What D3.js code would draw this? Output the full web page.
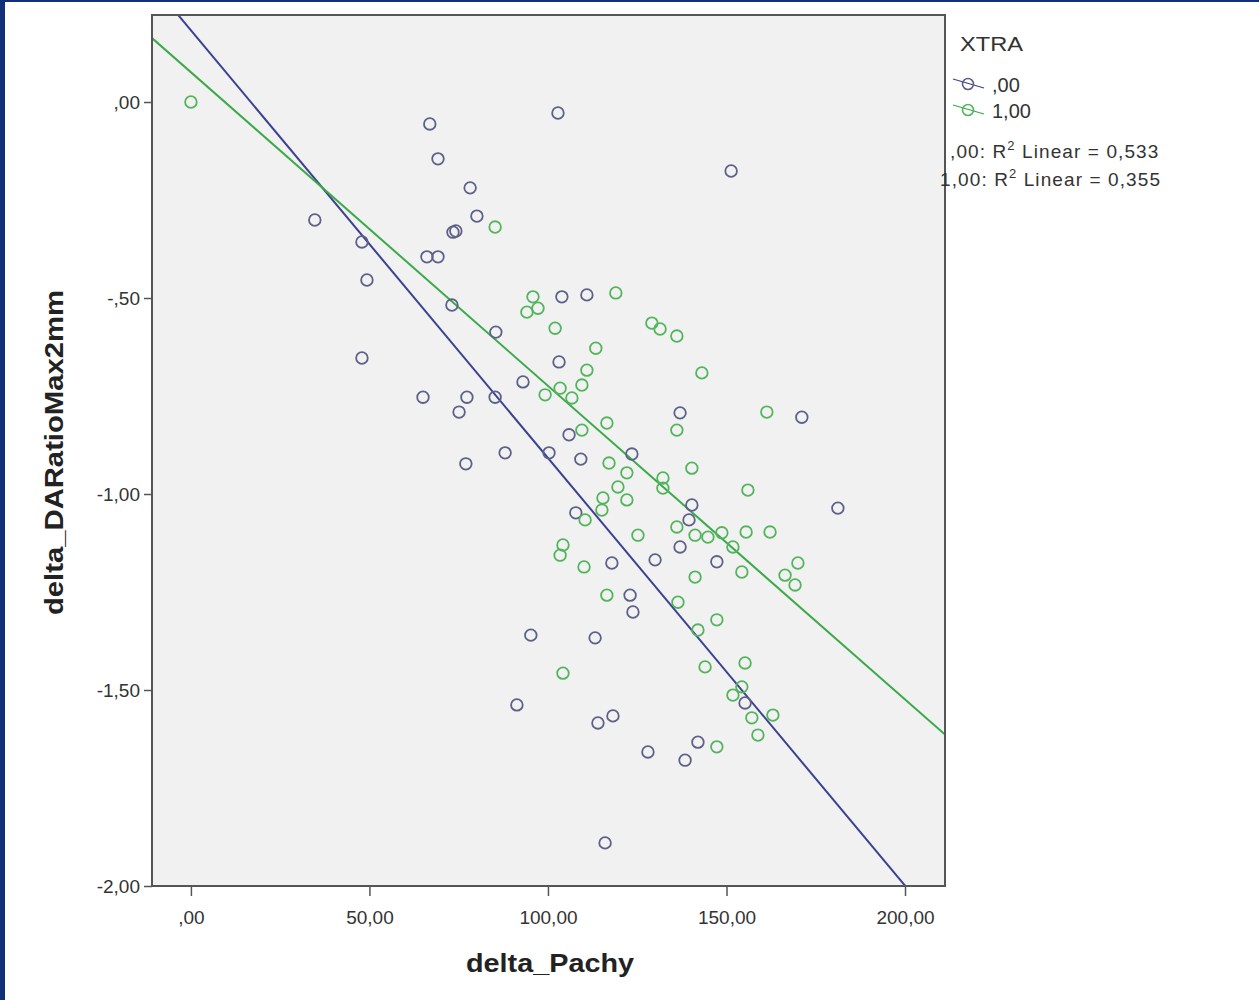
<!DOCTYPE html>
<html>
<head>
<meta charset="utf-8">
<script src="https://cdn.jsdelivr.net/npm/d3@7"></script>
<style>
  body { margin:0; background:#fff; }
  svg { display:block; }
  .tick text { font-family: "Liberation Sans", Arial, sans-serif; font-size:19px; fill:#333; }
</style>
</head>
<body>
<div id="chart"></div>
<script>
// group ,00 (XTRA = 0)
var xtra0X = [66.9,69.2,78.2,80.1,73.4,74.2,66.1,69.2,34.7,47.9,49.3,73.1,85.4,47.9,102.8,151.3,103.9,110.9,103.1,93.0,
  65.0,77.3,75.1,85.2,137.0,171.1,105.9,123.5,77.0,88.0,100.3,109.2,181.2,140.3,107.8,139.5,117.9,130.0,137.0,147.3,
  123.0,123.8,95.2,113.2,91.3,155.2,114.0,118.2,128.0,138.4,142.0,116.0];
var xtra0Y = [-0.056,-0.145,-0.219,-0.291,-0.332,-0.329,-0.395,-0.395,-0.301,-0.357,-0.454,-0.518,-0.587,-0.653,-0.028,-0.176,-0.497,-0.492,-0.663,-0.714,
  -0.753,-0.753,-0.791,-0.753,-0.793,-0.804,-0.849,-0.898,-0.923,-0.895,-0.895,-0.911,-1.036,-1.028,-1.048,-1.066,-1.176,-1.168,-1.135,-1.173,
  -1.258,-1.301,-1.360,-1.367,-1.538,-1.533,-1.584,-1.566,-1.658,-1.679,-1.633,-1.890];
// group 1,00 (XTRA = 1)
var xtra1X = [0,85.2,95.8,94.1,97.2,119.0,102.0,129.1,131.4,136.1,113.4,110.9,143.1,109.5,99.2,103.4,106.7,136.1,161.3,116.5,
  109.5,117.1,140.3,122.1,119.6,132.2,132.2,122.1,115.4,115.1,110.4,136.1,141.2,144.8,148.7,151.8,155.5,162.2,125.2,104.2,
  103.4,110.1,154.3,141.2,170.0,166.4,169.2,116.5,136.4,147.3,142.0,104.2,144.0,155.2,154.3,151.8,157.1,163.0,158.8,147.3,156.0];
var xtra1Y = [0,-0.319,-0.497,-0.536,-0.526,-0.487,-0.577,-0.564,-0.579,-0.597,-0.628,-0.684,-0.691,-0.722,-0.747,-0.730,-0.755,-0.837,-0.791,-0.819,
  -0.837,-0.921,-0.934,-0.946,-0.982,-0.959,-0.985,-1.015,-1.010,-1.041,-1.066,-1.084,-1.105,-1.110,-1.099,-1.135,-1.097,-1.097,-1.105,-1.130,
  -1.156,-1.186,-1.199,-1.212,-1.176,-1.207,-1.232,-1.258,-1.276,-1.321,-1.347,-1.457,-1.441,-1.431,-1.492,-1.513,-1.571,-1.564,-1.615,-1.645,-0.990];

var groups = [",00", "1,00"];
var fitIntercept = [0.183, 0.076];
var fitSlope = [-0.01091, -0.0080];
var r2Labels = [",00: R", "1,00: R"];
var r2Values = ["0,533", "0,355"];
var xTicks = [0, 50, 100, 150, 200];
var xTickLabels = [",00", "50,00", "100,00", "150,00", "200,00"];
var yTicks = [0, -0.5, -1, -1.5, -2];
var yTickLabels = [",00", "-,50", "-1,00", "-1,50", "-2,00"];

var colors = ["#5d6088", "#52b55c"];
var lineColors = ["#3c4190", "#3aaa48"];

var drawChart = function(){
  var svg = d3.select("#chart").append("svg").attr("width", 1259).attr("height", 1000);

  // dark frame of the slide
  svg.append("rect").attr("x",0).attr("y",0).attr("width",5).attr("height",1000).attr("fill","#12307a");
  svg.append("rect").attr("x",0).attr("y",0).attr("width",1259).attr("height",2).attr("fill","#12307a");

  var pLeft = 152, pTop = 15, pRight = 945, pBottom = 886;
  var x = d3.scaleLinear().domain([-10.9, 211.2]).range([pLeft, pRight]);
  var y = d3.scaleLinear().domain([-2, 0.222]).range([pBottom, pTop]);

  svg.append("rect").attr("x", pLeft).attr("y", pTop).attr("width", pRight-pLeft).attr("height", pBottom-pTop)
    .attr("fill", "#f1f1f1");

  svg.append("clipPath").attr("id","clip").append("rect")
    .attr("x", pLeft).attr("y", pTop).attr("width", pRight-pLeft).attr("height", pBottom-pTop);

  // fit lines
  var plot = svg.append("g").attr("clip-path","url(#clip)");
  [0,1].forEach(function(g){
    var x0 = -10.9, x1 = 211.2;
    plot.append("line")
      .attr("x1", x(x0)).attr("y1", y(fitIntercept[g] + fitSlope[g]*x0))
      .attr("x2", x(x1)).attr("y2", y(fitIntercept[g] + fitSlope[g]*x1))
      .attr("stroke", lineColors[g]).attr("stroke-width", 2);
  });

  // points
  var pts0 = xtra0X.map(function(d,i){ return [d, xtra0Y[i]]; });
  var pts1 = xtra1X.map(function(d,i){ return [d, xtra1Y[i]]; });
  [pts0, pts1].forEach(function(pts, g){
    plot.append("g").selectAll("circle").data(pts).enter().append("circle")
      .attr("cx", function(d){ return x(d[0]); })
      .attr("cy", function(d){ return y(d[1]); })
      .attr("r", 5.8)
      .attr("fill", "none")
      .attr("stroke", colors[g])
      .attr("stroke-width", 1.8);
  });

  // axes
  var xAxis = d3.axisBottom(x).tickValues(xTicks).tickSize(10).tickPadding(8)
    .tickFormat(function(d,i){ return xTickLabels[i]; });
  var gx = svg.append("g").attr("transform","translate(0,"+pBottom+")").call(xAxis);
  gx.select(".domain").remove();
  gx.selectAll(".tick line").attr("stroke","#555").attr("stroke-width",1.5);
  gx.selectAll(".tick text").attr("dy","1.05em");

  var yAxis = d3.axisLeft(y).tickValues(yTicks).tickSize(8).tickPadding(4)
    .tickFormat(function(d,i){ return yTickLabels[i]; });
  var gy = svg.append("g").attr("transform","translate("+pLeft+",0)").call(yAxis);
  gy.select(".domain").remove();
  gy.selectAll(".tick line").attr("stroke","#555").attr("stroke-width",1.5);

  // frame
  svg.append("rect").attr("x", pLeft).attr("y", pTop).attr("width", pRight-pLeft).attr("height", pBottom-pTop)
    .attr("fill", "none").attr("stroke", "#555").attr("stroke-width", 2);

  // axis titles
  svg.append("text").attr("x", 466).attr("y", 972)
    .attr("textLength", 168).attr("lengthAdjust", "spacingAndGlyphs")
    .style("font-family","'Liberation Sans', Arial, sans-serif").style("font-weight","bold")
    .style("font-size","25px").attr("fill","#222").text("delta_Pachy");
  svg.append("text").attr("transform","translate(63,615) rotate(-90)")
    .attr("textLength", 325).attr("lengthAdjust", "spacingAndGlyphs")
    .style("font-family","'Liberation Sans', Arial, sans-serif").style("font-weight","bold")
    .style("font-size","25px").attr("fill","#222").text("delta_DARatioMax2mm");

  // legend
  var leg = svg.append("g").style("font-family","'Liberation Sans', Arial, sans-serif");
  leg.append("text").attr("x", 960).attr("y", 51).attr("textLength", 63).attr("lengthAdjust","spacingAndGlyphs")
    .style("font-size","21px").attr("fill","#333").text("XTRA");
  groups.forEach(function(gname, g){
    var ly = 84 + g*26;
    leg.append("line").attr("x1", 953).attr("y1", ly-5).attr("x2", 984).attr("y2", ly+4)
      .attr("stroke", lineColors[g]).attr("stroke-width", 1.3);
    leg.append("circle").attr("cx", 968).attr("cy", ly).attr("r", 5.5)
      .attr("fill","none").attr("stroke", colors[g]).attr("stroke-width", 1.6);
    leg.append("text").attr("x", 992).attr("y", ly+8).style("font-size","20px").attr("fill","#333").text(gname);
  });
  r2Labels.forEach(function(lab, g){
    var t = leg.append("text").attr("x", g === 0 ? 950 : 940).attr("y", 158 + g*28)
      .style("font-size","19px").style("letter-spacing", "1.1px").attr("fill","#333");
    t.append("tspan").text(lab);
    t.append("tspan").attr("dy", -8).style("font-size","13px").text("2");
    t.append("tspan").attr("dy", 8).text(" Linear = " + r2Values[g]);
  });
};

drawChart();
</script>
</body>
</html>
